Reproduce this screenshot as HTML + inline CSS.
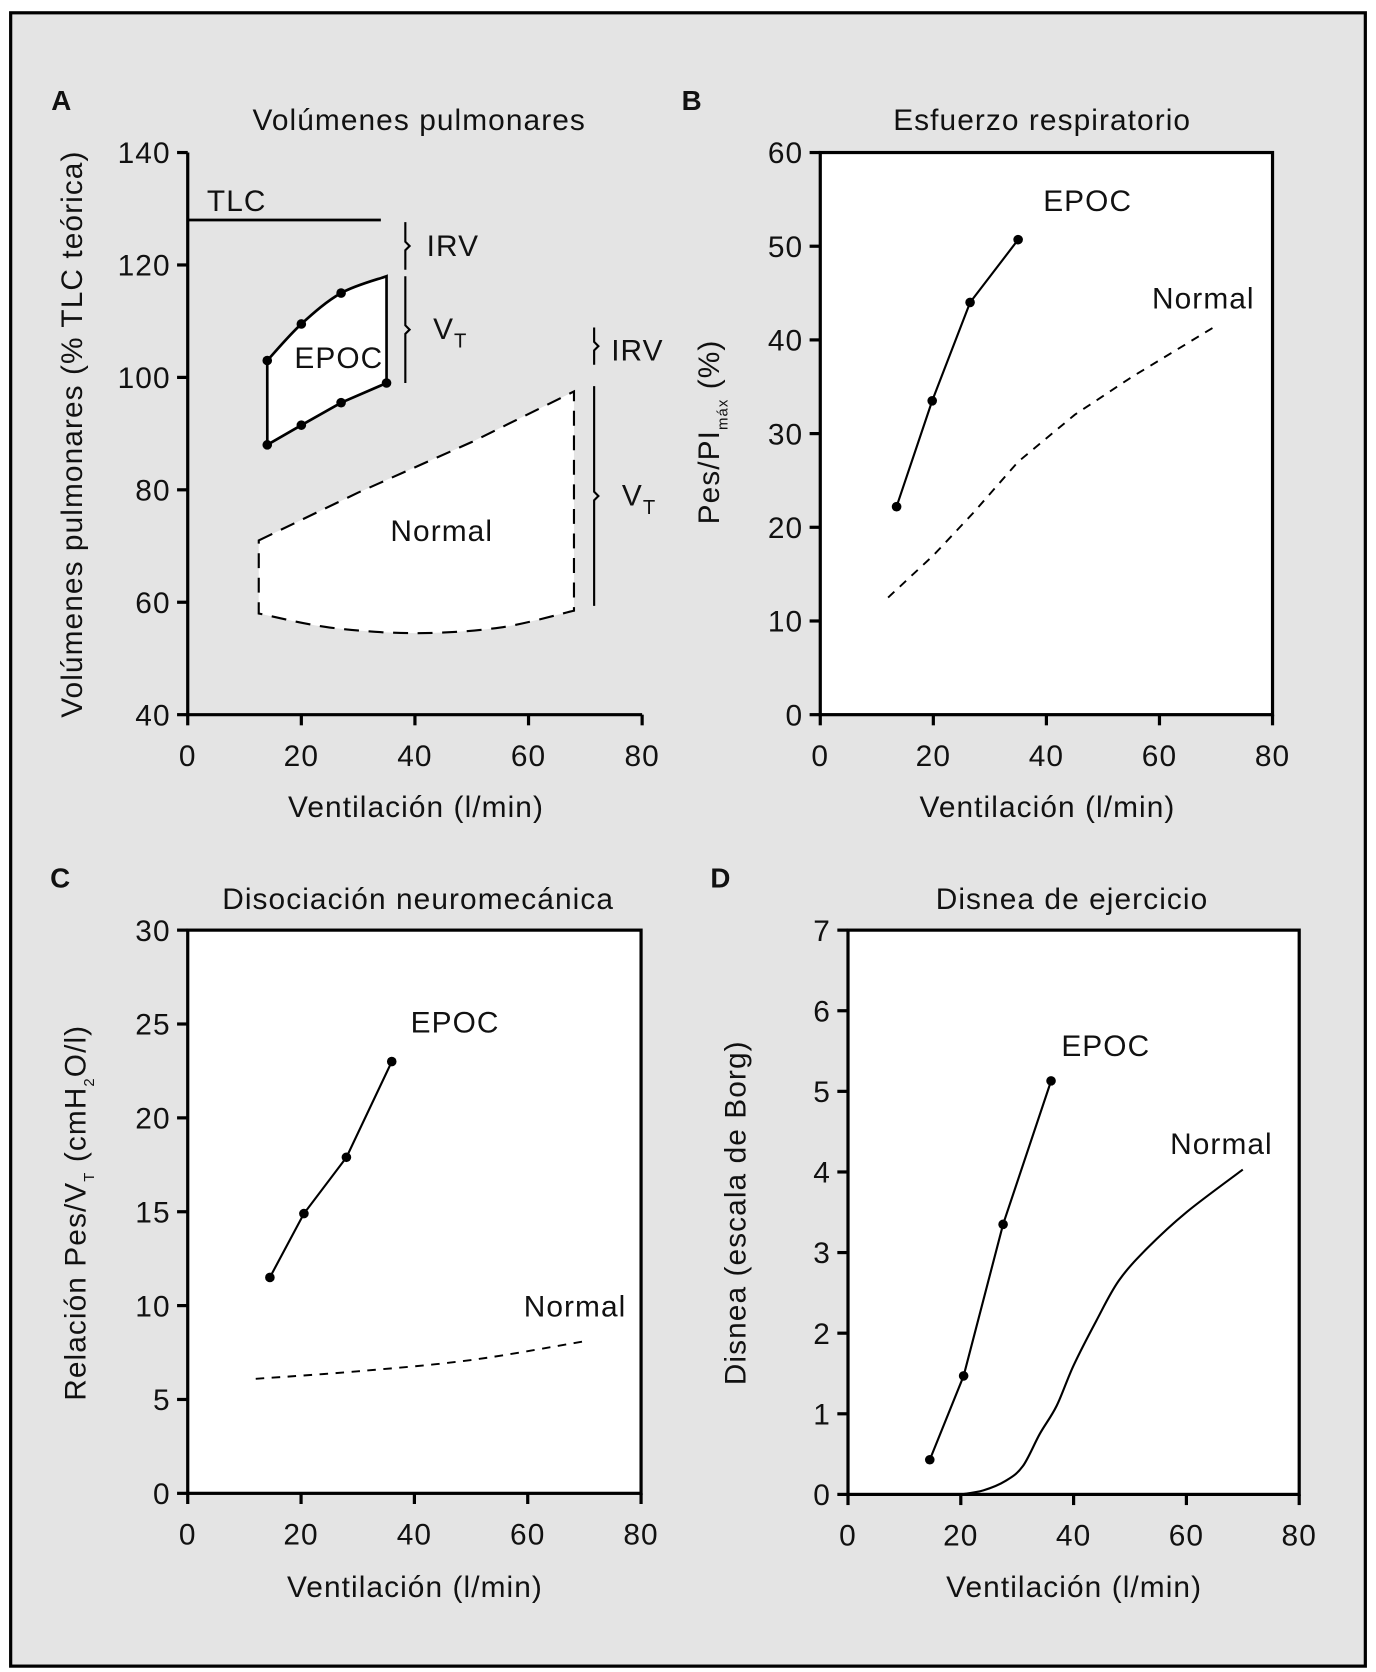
<!DOCTYPE html>
<html><head><meta charset="utf-8">
<style>
html,body{margin:0;padding:0;background:#fff;}
svg{display:block;}
text{font-family:"Liberation Sans",sans-serif;fill:#111;letter-spacing:1px;}
</style></head>
<body>
<svg id="fig" width="1376" height="1672" viewBox="0 0 1290 1567.5" preserveAspectRatio="none" xmlns="http://www.w3.org/2000/svg">
<rect x="10" y="12" width="1270" height="1550" fill="#e4e4e4" stroke="#000" stroke-width="3"/>
</svg>
<script>
// ---- Panel A data ----
const aTLC = 128;
const aEpocUpperX = [14, 20, 27];
const aEpocUpperY = [103, 109.5, 115];
const aEpocTop = [35, 118];
const aEpocLowerX = [35, 27, 20, 14];
const aEpocLowerY = [99, 95.5, 91.5, 88];
const aNormTopX = [12.5, 30, 50, 68];
const aNormTopY = [71, 79.5, 88.5, 97.5];
const aNormBotX = [12.5, 25, 40, 55, 68];
const aNormBotY = [58, 55.5, 54.5, 55.5, 58.5];
const aTicksX = [0, 20, 40, 60, 80];
const aTicksY = [40, 60, 80, 100, 120, 140];
// ---- Panel B data ----
const bEpocX = [13.5, 19.8, 26.5, 35];
const bEpocY = [22.2, 33.5, 44, 50.7];
const bNormX = [12, 20, 27, 35, 45, 55, 70];
const bNormY = [12.5, 17, 21.5, 27, 32, 36, 41.5];
const bTicksY = [0, 10, 20, 30, 40, 50, 60];
// ---- Panel C data ----
const cEpocX = [14.5, 20.5, 28, 36];
const cEpocY = [11.5, 14.9, 17.9, 23];
const cNormX = [12, 30, 50, 70];
const cNormY = [6.1, 6.5, 7.1, 8.1];
const cTicksY = [0, 5, 10, 15, 20, 25, 30];
// ---- Panel D data ----
const dEpocX = [14.5, 20.5, 27.5, 36];
const dEpocY = [0.43, 1.47, 3.35, 5.13];
const dNormX = [20, 24, 28, 31, 34, 37, 40, 44, 48, 53, 60, 70];
const dNormY = [0, 0.05, 0.17, 0.35, 0.75, 1.1, 1.6, 2.15, 2.65, 3.05, 3.5, 4.03];
const dTicksY = [0, 1, 2, 3, 4, 5, 6, 7];
const ticksX = [0, 20, 40, 60, 80];

const svg = document.getElementById('fig');
const NS = 'http://www.w3.org/2000/svg';
function mk(tag, attrs, parent) {
  const e = document.createElementNS(NS, tag);
  for (const k in attrs) e.setAttribute(k, attrs[k]);
  (parent || svg).appendChild(e);
  return e;
}
function txt(s, x, y, size, anchor, parent) {
  const t = mk('text', {x: x, y: y, 'font-size': size, 'text-anchor': anchor || 'start'}, parent);
  t.textContent = s;
  return t;
}
function scale(d0, d1, p0, p1) { return v => p0 + (v - d0) * (p1 - p0) / (d1 - d0); }
function pathFrom(xs, ys, sx, sy) {
  return xs.map((v, i) => (i ? 'L' : 'M') + sx(v).toFixed(1) + ',' + sy(ys[i]).toFixed(1)).join(' ');
}
function smoothFrom(xs, ys, sx, sy) {
  const p = xs.map((v, i) => [sx(v), sy(ys[i])]);
  let d = 'M' + p[0][0] + ',' + p[0][1];
  for (let i = 0; i < p.length - 1; i++) {
    const p0 = p[i - 1] || p[i], p1 = p[i], p2 = p[i + 1], p3 = p[i + 2] || p2;
    const c1 = [p1[0] + (p2[0] - p0[0]) / 6, p1[1] + (p2[1] - p0[1]) / 6];
    const c2 = [p2[0] - (p3[0] - p1[0]) / 6, p2[1] - (p3[1] - p1[1]) / 6];
    d += ' C' + c1[0] + ',' + c1[1] + ' ' + c2[0] + ',' + c2[1] + ' ' + p2[0] + ',' + p2[1];
  }
  return d;
}
function axes(g, sx, sy, xt, yt, x0, x1, y0, y1, box) {
  if (box) {
    const r = mk('rect', {x: sx(x0), y: sy(y1), width: sx(x1) - sx(x0), height: sy(y0) - sy(y1), fill: '#fff', stroke: '#000', 'stroke-width': 3}, g);
    
    
  } else {
    const l = mk('path', {d: 'M' + sx(x0) + ',' + sy(y1) + ' V' + sy(y0) + ' H' + sx(x1), fill: 'none', stroke: '#000', 'stroke-width': 3}, g);
    
    
  }
  xt.forEach(v => {
    mk('line', {x1: sx(v), x2: sx(v), y1: sy(y0), y2: sy(y0) + 10, stroke: '#000', 'stroke-width': 3}, g);
    const t = txt(String(v), sx(v), sy(y0) + 48, 28, 'middle', g);
    
    
  });
  yt.forEach(v => {
    mk('line', {x1: sx(x0) - 10, x2: sx(x0), y1: sy(v), y2: sy(v), stroke: '#000', 'stroke-width': 3}, g);
    const t = txt(String(v), sx(x0) - 16, sy(v) + 10, 28, 'end', g);
    
    
  });
}
function dots(g, xs, ys, sx, sy) {
  xs.forEach((v, i) => {
    const c = mk('circle', {cx: sx(v), cy: sy(ys[i]), r: 4.5, fill: '#000'}, g);
    
    
  });
}
function brace(g, x, yTop, yBot) {
  const m = (yTop + yBot) / 2;
  mk('path', {d: 'M' + x + ',' + yTop + ' V' + (m - 4) + ' L' + (x + 4) + ',' + m + ' L' + x + ',' + (m + 4) + ' V' + yBot, fill: 'none', stroke: '#000', 'stroke-width': 2}, g);
}
function vtLabel(g, x, y) {
  const t = mk('text', {x: x, y: y, 'font-size': 28}, g);
  t.innerHTML = 'V<tspan font-size="19" dy="8">T</tspan>';
  return t;
}

// ===== Panel A =====
const gA = mk('g', {});


const axA = scale(0, 80, 176, 602), ayA = scale(40, 140, 670, 143);
axes(gA, axA, ayA, aTicksX, aTicksY, 0, 80, 40, 140, false);
let dN = pathFrom(aNormTopX, aNormTopY, axA, ayA);
dN += ' L' + axA(aNormBotX[aNormBotX.length - 1]) + ',' + ayA(aNormBotY[aNormBotY.length - 1]);
const botRev = smoothFrom(aNormBotX.slice().reverse(), aNormBotY.slice().reverse(), axA, ayA).replace(/^M[^ C]+/, '');
dN += botRev + ' Z';
const normA = mk('path', {d: dN, fill: '#fff', stroke: '#000', 'stroke-width': 2, 'stroke-dasharray': '14,9'}, gA);


let dE = smoothFrom(aEpocUpperX.concat([aEpocTop[0]]), aEpocUpperY.concat([aEpocTop[1]]), axA, ayA);
dE += ' ' + pathFrom(aEpocLowerX, aEpocLowerY, axA, ayA).replace('M', 'L') + ' Z';
const epA = mk('path', {d: dE, fill: '#fff', stroke: '#000', 'stroke-width': 2.5}, gA);


dots(gA, aEpocUpperX, aEpocUpperY, axA, ayA);
dots(gA, aEpocLowerX, aEpocLowerY, axA, ayA);
const tlc = mk('line', {x1: axA(0), x2: axA(34), y1: ayA(aTLC), y2: ayA(aTLC), stroke: '#000', 'stroke-width': 2.5}, gA);


brace(gA, 380, ayA(aTLC) + 2, ayA(aEpocTop[1]) - 6);
brace(gA, 380, ayA(aEpocTop[1]), ayA(aEpocLowerY[0]));
brace(gA, 557, 307, 342);
brace(gA, 557, 362, 568);
txt('TLC', 194, 198, 28, 'start', gA);
txt('IRV', 400, 240, 28, 'start', gA);
vtLabel(gA, 406, 318);
txt('EPOC', 276, 345, 28, 'start', gA);
txt('Normal', 366, 507, 28, 'start', gA);
txt('IRV', 573, 338, 28, 'start', gA);
vtLabel(gA, 583, 474);
txt('A', 48, 103, 26, 'start', gA).setAttribute('font-weight', 'bold');
txt('Volúmenes pulmonares', 393, 122, 28, 'middle', gA);
txt('Ventilación (l/min)', 390, 766, 28, 'middle', gA);
txt('Volúmenes pulmonares (% TLC teórica)', 0, 0, 28, 'middle', gA).setAttribute('transform', 'translate(77,407) rotate(-90)');

// ===== Panel B =====
const gB = mk('g', {});


const axB = scale(0, 80, 769, 1193), ayB = scale(0, 60, 670, 143);
axes(gB, axB, ayB, ticksX, bTicksY, 0, 80, 0, 60, true);
const nB = mk('path', {d: pathFrom(bNormX, bNormY, axB, ayB), fill: 'none', stroke: '#000', 'stroke-width': 1.8, 'stroke-dasharray': '8,7'}, gB);


const eB = mk('path', {d: pathFrom(bEpocX, bEpocY, axB, ayB), fill: 'none', stroke: '#000', 'stroke-width': 2}, gB);


dots(gB, bEpocX, bEpocY, axB, ayB);
txt('EPOC', 978, 198, 28, 'start', gB);
txt('Normal', 1080, 289, 28, 'start', gB);
txt('B', 639, 103, 26, 'start', gB).setAttribute('font-weight', 'bold');
txt('Esfuerzo respiratorio', 977, 122, 28, 'middle', gB);
txt('Ventilación (l/min)', 982, 766, 28, 'middle', gB);
const ytB = mk('text', {x: 0, y: 0, 'font-size': 28, 'text-anchor': 'middle', transform: 'translate(674,405) rotate(-90)'}, gB);
ytB.innerHTML = 'Pes/PI<tspan font-size="14" dy="8">máx</tspan><tspan dy="-8"> (%)</tspan>';



// ===== Panel C =====
const gC = mk('g', {});


const axC = scale(0, 80, 176, 601), ayC = scale(0, 30, 1400, 872);
axes(gC, axC, ayC, ticksX, cTicksY, 0, 80, 0, 30, true);
const nC = mk('path', {d: smoothFrom(cNormX, cNormY, axC, ayC), fill: 'none', stroke: '#000', 'stroke-width': 1.8, 'stroke-dasharray': '8,7'}, gC);


const eC = mk('path', {d: pathFrom(cEpocX, cEpocY, axC, ayC), fill: 'none', stroke: '#000', 'stroke-width': 2}, gC);


dots(gC, cEpocX, cEpocY, axC, ayC);
txt('EPOC', 385, 968, 28, 'start', gC);
txt('Normal', 491, 1234, 28, 'start', gC);
txt('C', 47, 832, 26, 'start', gC).setAttribute('font-weight', 'bold');
txt('Disociación neuromecánica', 392, 852, 28, 'middle', gC);
txt('Ventilación (l/min)', 389, 1497, 28, 'middle', gC);
const ytC = mk('text', {x: 0, y: 0, 'font-size': 28, 'text-anchor': 'middle', transform: 'translate(80,1137) rotate(-90)'}, gC);
ytC.innerHTML = 'Relación Pes/V<tspan font-size="14" dy="8">T</tspan><tspan dy="-8"> (cmH</tspan><tspan font-size="14" dy="8">2</tspan><tspan dy="-8">O/l)</tspan>';



// ===== Panel D =====
const gD = mk('g', {});


const axD = scale(0, 80, 795, 1218), ayD = scale(0, 7, 1401, 872);
axes(gD, axD, ayD, ticksX, dTicksY, 0, 80, 0, 7, true);
const nD = mk('path', {d: smoothFrom(dNormX, dNormY, axD, ayD), fill: 'none', stroke: '#000', 'stroke-width': 2}, gD);


const eD = mk('path', {d: pathFrom(dEpocX, dEpocY, axD, ayD), fill: 'none', stroke: '#000', 'stroke-width': 2}, gD);


dots(gD, dEpocX, dEpocY, axD, ayD);
txt('EPOC', 995, 990, 28, 'start', gD);
txt('Normal', 1097, 1082, 28, 'start', gD);
txt('D', 666, 832, 26, 'start', gD).setAttribute('font-weight', 'bold');
txt('Disnea de ejercicio', 1005, 852, 28, 'middle', gD);
txt('Ventilación (l/min)', 1007, 1497, 28, 'middle', gD);
txt('Disnea (escala de Borg)', 0, 0, 28, 'middle', gD).setAttribute('transform', 'translate(699,1137) rotate(-90)');
</script>
</body></html>
